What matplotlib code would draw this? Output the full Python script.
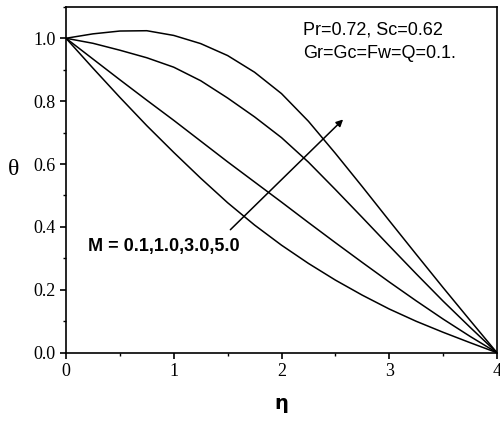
import matplotlib
matplotlib.use('Agg')
import matplotlib.pyplot as plt
from matplotlib.ticker import MultipleLocator

eta = [0.0, 0.25, 0.5, 0.75, 1.0, 1.25, 1.5, 1.75, 2.0,
       2.25, 2.5, 2.75, 3.0, 3.25, 3.5, 3.75, 4.0]

# M = 0.1, 1.0, 3.0, 5.0 (top to bottom)
theta_m01 = [1.0, 1.014, 1.023, 1.024, 1.009, 0.983, 0.945, 0.892, 0.824,
             0.736, 0.634, 0.528, 0.42, 0.313, 0.207, 0.103, 0.0]
theta_m10 = [1.0, 0.984, 0.962, 0.938, 0.908, 0.865, 0.81, 0.75, 0.684,
             0.606, 0.519, 0.43, 0.34, 0.251, 0.164, 0.081, 0.0]
theta_m30 = [1.0, 0.934, 0.868, 0.803, 0.739, 0.673, 0.607, 0.543, 0.479,
             0.414, 0.35, 0.287, 0.225, 0.165, 0.107, 0.052, 0.0]
theta_m50 = [1.0, 0.905, 0.812, 0.722, 0.637, 0.555, 0.477, 0.406, 0.342,
             0.284, 0.231, 0.183, 0.139, 0.10, 0.065, 0.032, 0.0]

curves = [theta_m01, theta_m10, theta_m30, theta_m50]

xticks = [0, 1, 2, 3, 4]
yticks = [0.0, 0.2, 0.4, 0.6, 0.8, 1.0]


def main():
    fig = plt.figure(figsize=(5.0, 4.26), dpi=100)
    ax = fig.add_axes([0.132, 0.172, 0.862, 0.812])

    for c in curves:
        ax.plot(eta, c, color='black', lw=1.1)

    ax.set_xlim(0, 4)
    ax.set_ylim(0, 1.1)
    ax.set_xticks(xticks)
    ax.set_yticks(yticks)
    ax.xaxis.set_minor_locator(MultipleLocator(0.5))
    ax.yaxis.set_minor_locator(MultipleLocator(0.1))
    ax.set_xticklabels([str(t) for t in xticks], family='Liberation Serif', fontsize=13)
    ax.set_yticklabels(['%.1f' % t for t in yticks], family='Liberation Serif', fontsize=13)
    ax.tick_params(which='major', direction='out', length=4, width=1.2)
    ax.tick_params(which='minor', direction='out', length=2.5, width=1.0)
    for s in ax.spines.values():
        s.set_linewidth(1.2)

    ax.set_xlabel('η', family='DejaVu Sans', fontweight='bold', fontsize=14, labelpad=10)
    ax.set_ylabel('θ', family='Liberation Serif', fontsize=17, rotation=0, labelpad=14)

    ax.text(2.2, 1.025, 'Pr=0.72, Sc=0.62', family='Liberation Sans', fontsize=13,
            va='center', ha='left')
    ax.text(2.2, 0.951, 'Gr=Gc=Fw=Q=0.1.', family='Liberation Sans', fontsize=13,
            va='center', ha='left')
    ax.text(0.2, 0.337, 'M = 0.1,1.0,3.0,5.0', family='Liberation Sans', fontsize=13,
            fontweight='bold', va='center', ha='left')

    ax.annotate('', xy=(2.59, 0.748), xytext=(1.507, 0.385),
                arrowprops=dict(arrowstyle='-|>', color='black', lw=1.1,
                                mutation_scale=10))

    fig.savefig('out.png', dpi=100)


if __name__ == '__main__':
    main()
